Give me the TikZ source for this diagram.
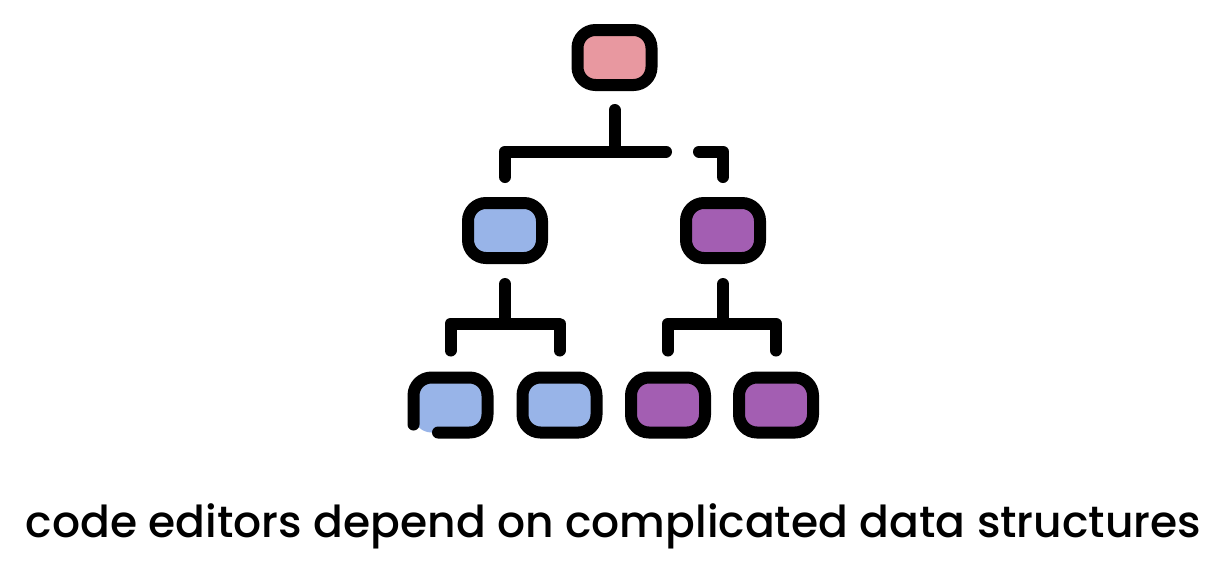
\documentclass[tikz,border=0pt]{standalone}
\usepackage{fontspec}
\setmainfont{Poppins}
\newfontfamily\capfont{Poppins}[UprightFont=* Medium]
\usetikzlibrary{calc}
\definecolor{pinkc}{RGB}{232,152,160}
\definecolor{bluec}{RGB}{152,180,232}
\definecolor{purplec}{RGB}{163,94,178}
\begin{document}
\begin{tikzpicture}[x=1pt,y=-1pt,
  box/.style={draw=black,line width=12pt,rounded corners=18pt,minimum width=74pt,minimum height=55pt,inner sep=0pt,outer sep=0pt},
  conn/.style={draw=black,line width=12pt,line cap=round,line join=round}]
\useasboundingbox (0,0) rectangle (1224,582);
% nodes
\node[box,fill=pinkc] (root) at (614.5,57.5) {};
\node[box,fill=bluec] (m1) at (505,230.5) {};
\node[box,fill=purplec] (m2) at (723,230.5) {};
\node[box,draw=none,fill=bluec] (l1) at (450.5,405) {};
\node[box,fill=bluec] (l2) at (559.5,405) {};
\node[box,fill=purplec] (l3) at (668,405) {};
\node[box,fill=purplec] (l4) at (776,405) {};
% broken outline of first leaf
\draw[conn,rounded corners=18pt] ($(l1.south west)+(0,-8)$) |- (l1.north east) |- ($(l1.south west)+(24.5,0)$);
% connectors
\coordinate (b1) at (666,151.5);
\coordinate (b2) at (699,151.5);
\coordinate (c1) at (505,323.5);
\coordinate (c2) at (723,323.5);
\draw[conn] ([yshift=-25pt]root.south) -- (root.south |- b1);
\draw[conn] ([yshift=26pt]m1.north) |- (b1);
\draw[conn] (b2) -| ([yshift=26pt]m2.north);
\draw[conn] ([yshift=-26pt]m1.south) -- (c1);
\draw[conn] ([yshift=27pt]l1.north) |- (l2.north |- c1) -- ([yshift=27pt]l2.north);
\draw[conn] ([yshift=-26pt]m2.south) -- (c2);
\draw[conn] ([yshift=27pt]l3.north) |- (l4.north |- c2) -- ([yshift=27pt]l4.north);
% caption
\node[anchor=base,font=\capfont\fontsize{44}{52}\selectfont,inner sep=0pt] (cap) at (613.5,537) {code editors depend on complicated data structures};
\end{tikzpicture}
\end{document}
